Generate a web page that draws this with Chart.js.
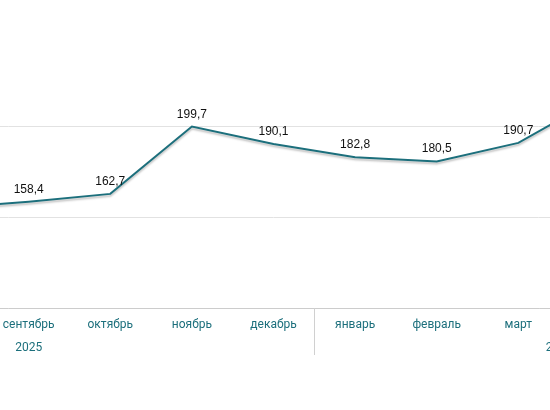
<!DOCTYPE html>
<html lang="ru">
<head>
<meta charset="utf-8">
<script src="https://cdn.jsdelivr.net/npm/chart.js@4"></script>
<style>
  html, body { margin: 0; padding: 0; background: #fff; overflow: hidden; }
  #wrap { position: absolute; left: -257px; top: 0; width: 1061px; height: 410px; }
</style>
</head>
<body>
<div id="wrap"><canvas id="chart"></canvas></div>
<script>
// месяцы с июня 2025 по июнь 2026 (видна только середина)
const months = ['июнь', 'июль', 'август', 'сентябрь', 'октябрь', 'ноябрь', 'декабрь',
                'январь', 'февраль', 'март', 'апрель', 'май', 'июнь'];
const values = [null, null, 155, 158.4, 162.7, 199.7, 190.1, 182.8, 180.5, 190.7, 216, null, null];
const years = ['2025', '2026'];
const yearStart = [0, 7];   // индекс первого месяца в группе
const yearEnd = [6, 12];
const yTicks = [100, 150, 200, 250];

const teal = '#1c6f7c';

// подписи значений над точками
const valueLabels = {
    id: 'valueLabels',
    afterDatasetsDraw(chart) {
        const ctx = chart.ctx;
        const meta = chart.getDatasetMeta(0);
        ctx.save();
        ctx.font = '12px "Liberation Sans", Arial, sans-serif';
        ctx.fillStyle = '#111';
        ctx.textAlign = 'center';
        ctx.textBaseline = 'alphabetic';
        meta.data.forEach((pt, i) => {
            if (values[i] == null) return;
            ctx.fillText(values[i].toFixed(1).replace('.', ','), pt.x, pt.y - 9);
        });
        ctx.restore();
    }
};

// тень под линией
const lineShadow = {
    id: 'lineShadow',
    beforeDatasetsDraw(chart) {
        const ctx = chart.ctx;
        ctx.save();
        ctx.shadowColor = 'rgba(0,0,0,0.25)';
        ctx.shadowOffsetY = 2;
        ctx.shadowBlur = 2;
    },
    afterDatasetsDraw(chart) {
        chart.ctx.restore();
    }
};

// годы под месяцами и разделитель
const yearLabels = {
    id: 'yearLabels',
    afterDraw(chart) {
        const ctx = chart.ctx;
        const x = chart.scales.x;
        const bottom = chart.chartArea.bottom;
        ctx.save();
        ctx.font = '12px Roboto, sans-serif';
        ctx.fillStyle = teal;
        ctx.textAlign = 'center';
        ctx.textBaseline = 'middle';
        years.forEach((y, i) => {
            const cx = (x.getPixelForValue(yearStart[i]) + x.getPixelForValue(yearEnd[i])) / 2;
            ctx.fillText(y, cx, bottom + 40);
            if (i > 0) {
                const sx = Math.round((x.getPixelForValue(yearStart[i] - 1) + x.getPixelForValue(yearStart[i])) / 2) + 0.5;
                ctx.strokeStyle = '#d0d0d0';
                ctx.lineWidth = 1;
                ctx.beginPath();
                ctx.moveTo(sx, bottom);
                ctx.lineTo(sx, bottom + 47);
                ctx.stroke();
            }
        });
        ctx.restore();
    }
};

const canvas = document.getElementById('chart');
canvas.style.width = '1061px';
canvas.style.height = '410px';
canvas.width = 1061;
canvas.height = 410;

new Chart(canvas, {
    type: 'line',
    data: {
        labels: months,
        datasets: [{
            data: values,
            borderColor: teal,
            borderWidth: 2,
            pointRadius: 0,
            tension: 0,
            fill: false
        }]
    },
    options: {
        responsive: false,
        maintainAspectRatio: false,
        animation: false,
        layout: { padding: { top: 35, left: 0, right: 0, bottom: 0 } },
        plugins: {
            legend: { display: false },
            tooltip: { enabled: false }
        },
        scales: {
            x: {
                offset: true,
                grid: { display: false, drawTicks: false },
                border: { display: true, color: '#cccccc', width: 1 },
                ticks: {
                    color: teal,
                    font: { family: 'Roboto', size: 12 },
                    padding: 10,
                    autoSkip: false,
                    maxRotation: 0
                },
                afterFit: s => { s.height = 102; }
            },
            y: {
                min: yTicks[0],
                max: yTicks[yTicks.length - 1],
                afterBuildTicks: s => { s.ticks = yTicks.map(v => ({ value: v })); },
                grid: {
                    drawTicks: false,
                    color: c => (c.tick && c.tick.value === 250) ? 'rgba(0,0,0,0)' : '#e2e2e2'
                },
                border: { display: false },
                ticks: { display: false },
                afterFit: s => { s.width = 0; }
            }
        }
    },
    plugins: [lineShadow, valueLabels, yearLabels]
});
</script>
</body>
</html>
